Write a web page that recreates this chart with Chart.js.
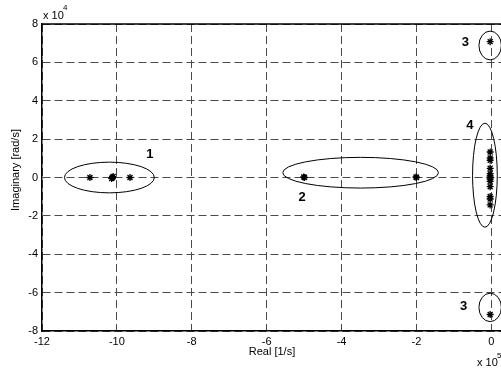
<!DOCTYPE html>
<html>
<head>
<meta charset="utf-8">
<script src="https://cdn.jsdelivr.net/npm/chart.js@4/dist/chart.umd.min.js"></script>
<style>
  html, body { margin: 0; padding: 0; background: #fff; overflow: hidden; }
  #wrap { width: 520px; height: 370px; }
</style>
</head>
<body>
<div id="wrap"><canvas id="grafico" width="520" height="370"></canvas></div>
<script>
// poles, real part in 1e5 [1/s], imaginary part in 1e4 [rad/s]
const poleRe = [-10.72, -10.12, -10.10, -10.14, -9.65,
                -4.99, -5.01, -2.00, -2.01,
                -0.03, -0.03,
                -0.03, -0.03, -0.03, -0.03, -0.03, -0.03, -0.03, -0.03, -0.03, -0.03, -0.03, -0.03, -0.03];
const poleIm = [0, 0, 0.05, -0.05, 0,
                0, 0.03, 0, 0.03,
                7.08, -7.14,
                1.33, 1.02, 0.90, 0.48, 0.20, 0.08, 0, -0.08, -0.20, -0.48, -0.99, -1.12, -1.43];

const xTicks = [-12, -10, -8, -6, -4, -2, 0];
const yTicks = [-8, -6, -4, -2, 0, 2, 4, 6, 8];

// group ellipses
const elCx = [-10.2, -3.49, -0.03, -0.03, -0.17];
const elCy = [0, 0.25, 6.88, -6.77, 0.12];
const elRx = [1.2, 2.08, 0.3, 0.3, 0.33];
const elRy = [0.8, 0.8, 0.75, 0.74, 2.71];

const grpTxt = ['1', '2', '3', '3', '4'];
const grpX = [-9.12, -5.05, -0.69, -0.74, -0.57];
const grpY = [1.21, -1.05, 7.06, -6.72, 2.74];

const fonte = "'Liberation Sans', Arial, Helvetica, sans-serif";

const pontos = poleRe.map((re, i) => ({ x: re, y: poleIm[i] }));

const extras = {
  id: 'extras',
  afterDatasetsDraw(chart) {
    let ctx = chart.ctx
    let sx = chart.scales.x
    let sy = chart.scales.y
    let area = chart.chartArea
    ctx.save()
    // top box line
    ctx.strokeStyle = '#000'
    ctx.lineWidth = 1.5
    ctx.beginPath()
    ctx.moveTo(area.left, area.top)
    ctx.lineTo(area.right, area.top)
    ctx.stroke()
    // ellipses
    ctx.lineWidth = 1
    elCx.forEach((cx, i) => {
      let px = sx.getPixelForValue(cx)
      let py = sy.getPixelForValue(elCy[i])
      let rx = Math.abs(sx.getPixelForValue(cx + elRx[i]) - px)
      let ry = Math.abs(sy.getPixelForValue(elCy[i] + elRy[i]) - py)
      ctx.beginPath()
      ctx.ellipse(px, py, rx, ry, 0, 0, Math.PI * 2)
      ctx.stroke()
    })
    // group numbers
    ctx.fillStyle = '#000'
    ctx.font = 'bold 13px ' + fonte
    ctx.textAlign = 'center'
    ctx.textBaseline = 'middle'
    grpTxt.forEach((t, i) => {
      ctx.fillText(t, sx.getPixelForValue(grpX[i]), sy.getPixelForValue(grpY[i]))
    })
    // axis titles and exponents
    ctx.font = '11px ' + fonte
    ctx.fillText('Real [1/s]', 272, 352)
    ctx.save()
    ctx.translate(16, 170)
    ctx.rotate(-Math.PI / 2)
    ctx.fillText('Imaginary [rad/s]', 0, 0)
    ctx.restore()
    ctx.textAlign = 'left'
    ctx.fillText('x 10', 43, 16)
    ctx.fillText('x 10', 477, 363)
    ctx.font = '8px ' + fonte
    ctx.fillText('4', 63, 8)
    ctx.fillText('5', 497, 356)
    ctx.restore()
  }
};

new Chart(document.getElementById('grafico').getContext('2d'), {
  type: 'scatter',
  data: {
    datasets: [{
      data: pontos,
      pointStyle: 'star',
      radius: 3.5,
      borderColor: '#000',
      backgroundColor: '#000',
      borderWidth: 1.3
    }]
  },
  options: {
    responsive: false,
    animation: false,
    layout: { padding: { left: 0, top: 24, right: 10, bottom: 0 } },
    plugins: { legend: { display: false }, tooltip: { enabled: false } },
    scales: {
      x: {
        type: 'linear',
        min: -12,
        max: 0.5,
        afterFit: (s) => { s.height = 39 },
        afterBuildTicks: (s) => { s.ticks = xTicks.map(v => ({ value: v })) },
        ticks: { color: '#000', padding: 4, font: { family: fonte, size: 11 }, maxRotation: 0 },
        grid: { color: '#4a4a4a', lineWidth: 1, drawTicks: false },
        border: { color: '#000', width: 1.5, dash: [8, 4] }
      },
      y: {
        type: 'linear',
        min: -8,
        max: 8,
        afterFit: (s) => { s.width = 42 },
        afterBuildTicks: (s) => { s.ticks = yTicks.map(v => ({ value: v })) },
        ticks: { color: '#000', padding: 4, font: { family: fonte, size: 11 } },
        grid: { color: '#4a4a4a', lineWidth: 1, drawTicks: false },
        border: { color: '#000', width: 1.5, dash: [8, 4] }
      }
    }
  },
  plugins: [extras]
});
</script>
</body>
</html>
